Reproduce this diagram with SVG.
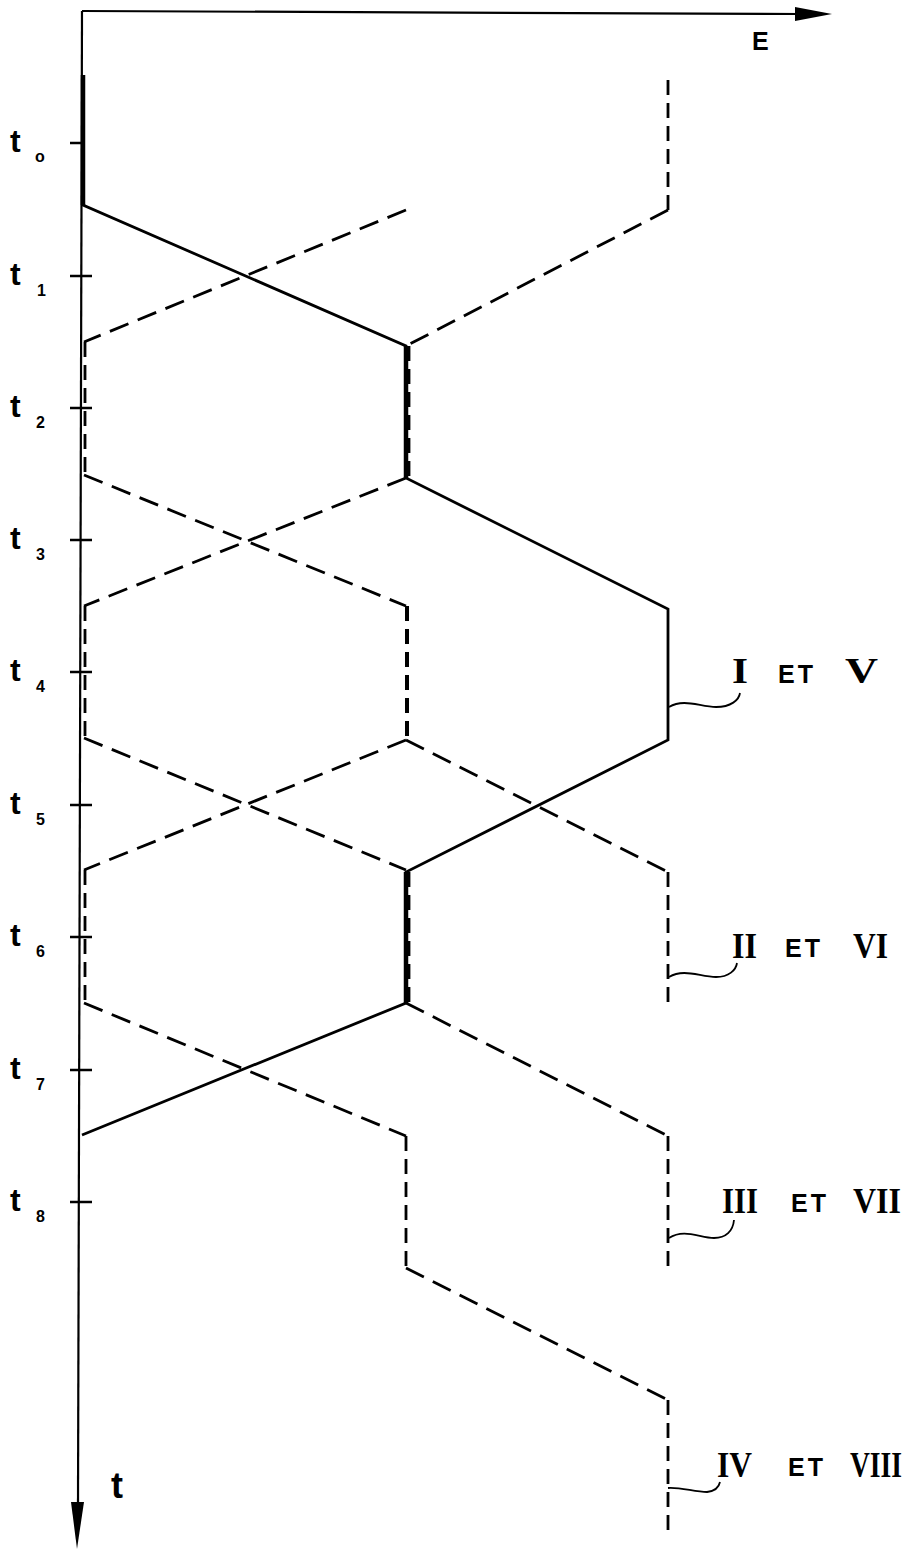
<svg xmlns="http://www.w3.org/2000/svg" width="915" height="1551" viewBox="0 0 915 1551">
<style>
.ax{stroke:#000;stroke-width:2.2;fill:none}
.s{stroke:#000;stroke-width:2.8;fill:none;stroke-linejoin:miter}
.sk{stroke:#000;stroke-width:4.5;fill:none}
.d{stroke:#000;stroke-width:2.8;fill:none;stroke-dasharray:20 10}
.dv{stroke:#000;stroke-width:2.8;fill:none;stroke-dasharray:15 8}
.tk{stroke:#000;stroke-width:2.6}
.lbl{font-family:"Liberation Sans",Arial,sans-serif;font-weight:bold;fill:#000}
.rn{font-family:"Liberation Serif","Times New Roman",serif;font-weight:bold;font-size:36px;fill:#000}
.et{font-family:"Liberation Sans",Arial,sans-serif;font-weight:bold;font-size:25px;letter-spacing:3px;fill:#000}
.lead{stroke:#000;stroke-width:1.8;fill:none}
</style>
<rect width="915" height="1551" fill="#fff"/>

<g id="axes">
<path class="ax" d="M82,11 L800,14"/>
<path d="M795,7 L832,14 L795,21 Z" fill="#000"/>
<path class="ax" d="M82,11 L78,1505"/>
<path d="M71,1502 L77,1549 L84,1502 Z" fill="#000"/>
<g id="ticks">
<path class="tk" d="M70,143 H84 M70,276 H92 M70,408 H92 M70,540 H92 M70,672 H92 M70,805 H92 M70,937 H92 M70,1070 H92 M70,1202 H92"/>
</g>
</g>

<g id="axis-labels" class="lbl">
<text x="752" y="50" font-size="25">E</text>
<text x="111" y="1498" font-size="36">t</text>
<g id="t0"><text x="10" y="152" font-size="32">t</text><text x="35" y="162" font-size="16">o</text></g>
<g id="t1"><text x="10" y="285" font-size="32">t</text><text x="37" y="296" font-size="16">1</text></g>
<g id="t2"><text x="10" y="417" font-size="32">t</text><text x="36" y="428" font-size="16">2</text></g>
<g id="t3"><text x="10" y="549" font-size="32">t</text><text x="36" y="560" font-size="16">3</text></g>
<g id="t4"><text x="10" y="681" font-size="32">t</text><text x="36" y="692" font-size="16">4</text></g>
<g id="t5"><text x="10" y="814" font-size="32">t</text><text x="36" y="825" font-size="16">5</text></g>
<g id="t6"><text x="10" y="946" font-size="32">t</text><text x="36" y="957" font-size="16">6</text></g>
<g id="t7"><text x="10" y="1079" font-size="32">t</text><text x="36" y="1090" font-size="16">7</text></g>
<g id="t8"><text x="10" y="1211" font-size="32">t</text><text x="36" y="1222" font-size="16">8</text></g>
</g>

<g id="connectors">
<g id="curve-solid">
<path class="s" d="M83,75 L83,205 L406,346 L406,478 L668,609 L668,740 L406,872 L406,1003 L82,1135"/>
<path class="sk" d="M83,75 V205 M406,346 V478 M406,872 V1003"/>
</g>
<g id="curves-dashed">
<path class="d" d="M406,210 L84,342"/>
<path class="dv" d="M668,80 L668,210"/>
<path class="d" d="M668,210 L406,346"/>
<path class="d" d="M406,478 L84,606"/>
<path class="d" d="M84,475 L406,606"/>
<path class="d" d="M84,738 L406,870"/>
<path class="d" d="M406,740 L84,870"/>
<path class="d" d="M406,740 L668,872"/>
<path class="dv" d="M668,872 V1003"/>
<path class="d" d="M84,1003 L406,1136"/>
<path class="dv" d="M406,1136 V1268"/>
<path class="d" d="M406,1268 L668,1400"/>
<path class="dv" d="M668,1400 V1532"/>
<path class="d" d="M406,1003 L668,1136"/>
<path class="dv" d="M668,1136 V1268"/>
<path class="dv" d="M85,342 V475 M85,606 V738 M85,870 V1003"/>
<path class="dv" style="stroke-width:4" d="M407,606 V740"/>
<path class="dv" d="M409,346 V478 M409,872 V1003"/>
</g>
<g id="leaders">
<path class="lead" d="M669,707 C684,698 700,707 716,707 C731,707 739,700 740,693"/>
<path class="lead" d="M669,977 C684,968 700,977 716,977 C729,977 736,970 737,963"/>
<path class="lead" d="M669,1238 C684,1228 700,1238 714,1238 C726,1238 733,1231 734,1220"/>
<path class="lead" d="M668,1488 C680,1487 695,1492 707,1492 C715,1491 719,1487 720,1482"/>
</g>
</g>

<g id="label-I-V"><text class="rn" x="732" y="683" textLength="16" lengthAdjust="spacingAndGlyphs">I</text><text class="et" x="778" y="683">ET</text><text class="rn" x="845" y="683" textLength="33" lengthAdjust="spacingAndGlyphs">V</text></g>
<g id="label-II-VI"><text class="rn" x="732" y="958" textLength="25" lengthAdjust="spacingAndGlyphs">II</text><text class="et" x="785" y="957">ET</text><text class="rn" x="853" y="958" textLength="35" lengthAdjust="spacingAndGlyphs">VI</text></g>
<g id="label-III-VII"><text class="rn" x="722" y="1213" textLength="36" lengthAdjust="spacingAndGlyphs">III</text><text class="et" x="791" y="1212">ET</text><text class="rn" x="853" y="1213" textLength="48" lengthAdjust="spacingAndGlyphs">VII</text></g>
<g id="label-IV-VIII"><text class="rn" x="717" y="1477" textLength="35" lengthAdjust="spacingAndGlyphs">IV</text><text class="et" x="788" y="1476">ET</text><text class="rn" x="850" y="1477" textLength="52" lengthAdjust="spacingAndGlyphs">VIII</text></g>
</svg>
